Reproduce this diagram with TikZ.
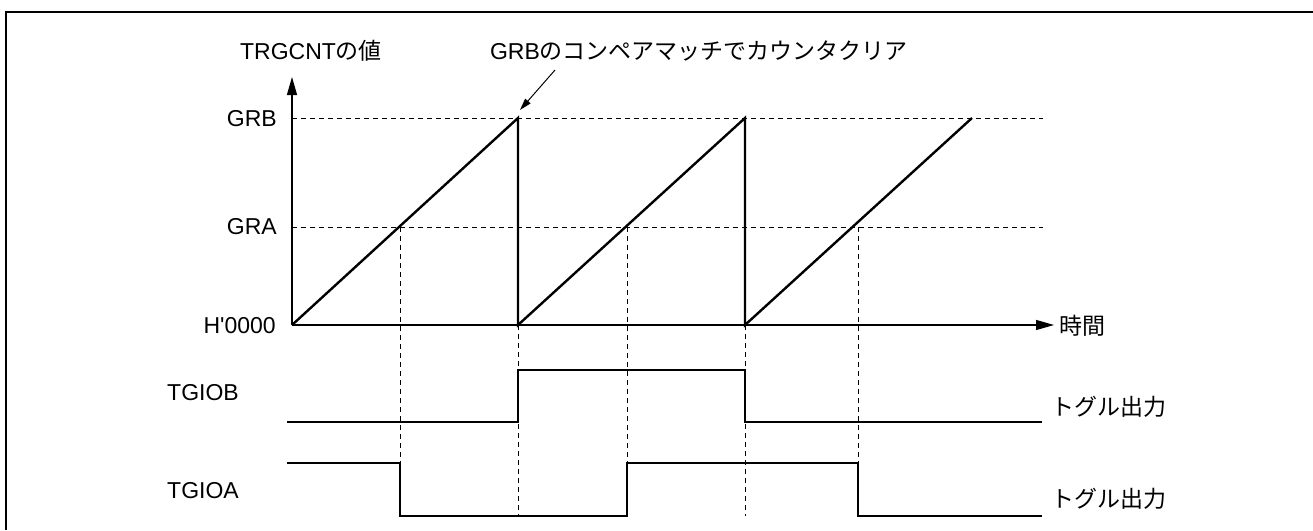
\documentclass[tikz,border=0pt]{standalone}
\usepackage{fontspec}
\setmainfont{Liberation Sans}[Ligatures=TeXOff]
\newfontfamily\cjk{Noto Sans CJK JP}
\usetikzlibrary{arrows.meta}
\begin{document}
\begin{tikzpicture}[x=1pt,y=-1pt,
  lbl/.style={font=\fontsize{23}{25}\selectfont, inner sep=0pt},
  axisline/.style={line width=1.2pt, -{Triangle[length=18pt,width=10pt]}},
  ramp/.style={line width=2.4pt, line join=miter},
  sig/.style={line width=2.6pt, line join=miter},
  guide/.style={line width=1pt, dash pattern=on 5pt off 4pt},
  frame/.style={line width=2.5pt}]
\useasboundingbox (0,0) rectangle (1313,530);
% frame
\coordinate (fTL) at (6,12);
\coordinate (fTR) at (1313,12);
\coordinate (fBL) at (6,530);
\draw[frame] (fBL) -- (fTL) -- (fTR);
% axes
\coordinate (O) at (292,325);
\coordinate (Ytop) at (292,77);
\coordinate (Xend) at (1054,325);
\draw[axisline] (O) -- (Ytop);
\draw[axisline] (O) -- (Xend);
\node[lbl, anchor=west] (time) at (1059,326) {\cjk 時間};
\node[lbl] (ylab) at (311,51) {TRGCNT{\cjk の値}};
\node[lbl, anchor=east] (lgrb) at (277,119) {GRB};
\node[lbl, anchor=east] (lgra) at (277,227) {GRA};
\node[lbl, anchor=east] (lzero) at (276,326) {H'0000};
% level guides
\coordinate (grbL) at (292,118);
\coordinate (grbR) at (1043,118);
\coordinate (graL) at (292,227);
\coordinate (graR) at (1043,227);
\draw[guide] (grbL) -- (grbR);
\draw[guide] (graL) -- (graR);
% ramps
\coordinate (p1) at (518,118);
\coordinate (z1) at (518,325);
\coordinate (p2) at (745,118);
\coordinate (z2) at (745,325);
\coordinate (p3) at (972,118);
\draw[ramp] (O) -- (p1) -- (z1) -- (p2) -- (z2) -- (p3);
% GRA crossings
\coordinate (a1) at (400,227);
\coordinate (a2) at (627,227);
\coordinate (a3) at (858,227);
% vertical guides
\coordinate (a1b) at (400,463);
\coordinate (z1b) at (518,516);
\coordinate (a2b) at (627,516);
\coordinate (z2b) at (745,516);
\coordinate (a3b) at (858,463);
\draw[guide] (a1) -- (a1b);
\draw[guide] (z1) -- (z1b);
\draw[guide] (a2) -- (a2b);
\draw[guide] (z2) -- (z2b);
\draw[guide] (a3) -- (a3b);
% annotation
\node[lbl] (note) at (699,51) {GRB{\cjk のコンペアマッチでカウンタクリア}};
\coordinate (nS) at (555,70);
\coordinate (nE) at (520,110);
\draw[line width=1pt, -{Triangle[length=12pt,width=7pt]}] (nS) -- (nE);
% TGIOB
\node[lbl, anchor=west] (tgiob) at (167,393) {TGIOB};
\coordinate (b0) at (287,422);
\coordinate (b1) at (518,422);
\coordinate (b2) at (518,370);
\coordinate (b3) at (745,370);
\coordinate (b4) at (745,422);
\coordinate (b5) at (1042,422);
\draw[sig] (b0) -- (b1) -- (b2) -- (b3) -- (b4) -- (b5);
\node[lbl, anchor=west] (togB) at (1051,407) {\cjk トグル出力};
% TGIOA
\node[lbl, anchor=west] (tgioa) at (167,491) {TGIOA};
\coordinate (c0) at (287,463);
\coordinate (c1) at (400,463);
\coordinate (c2) at (400,516);
\coordinate (c3) at (627,516);
\coordinate (c4) at (627,463);
\coordinate (c5) at (858,463);
\coordinate (c6) at (858,516);
\coordinate (c7) at (1042,516);
\draw[sig] (c0) -- (c1) -- (c2) -- (c3) -- (c4) -- (c5) -- (c6) -- (c7);
\node[lbl, anchor=west] (togA) at (1051,499) {\cjk トグル出力};
\end{tikzpicture}
\end{document}
